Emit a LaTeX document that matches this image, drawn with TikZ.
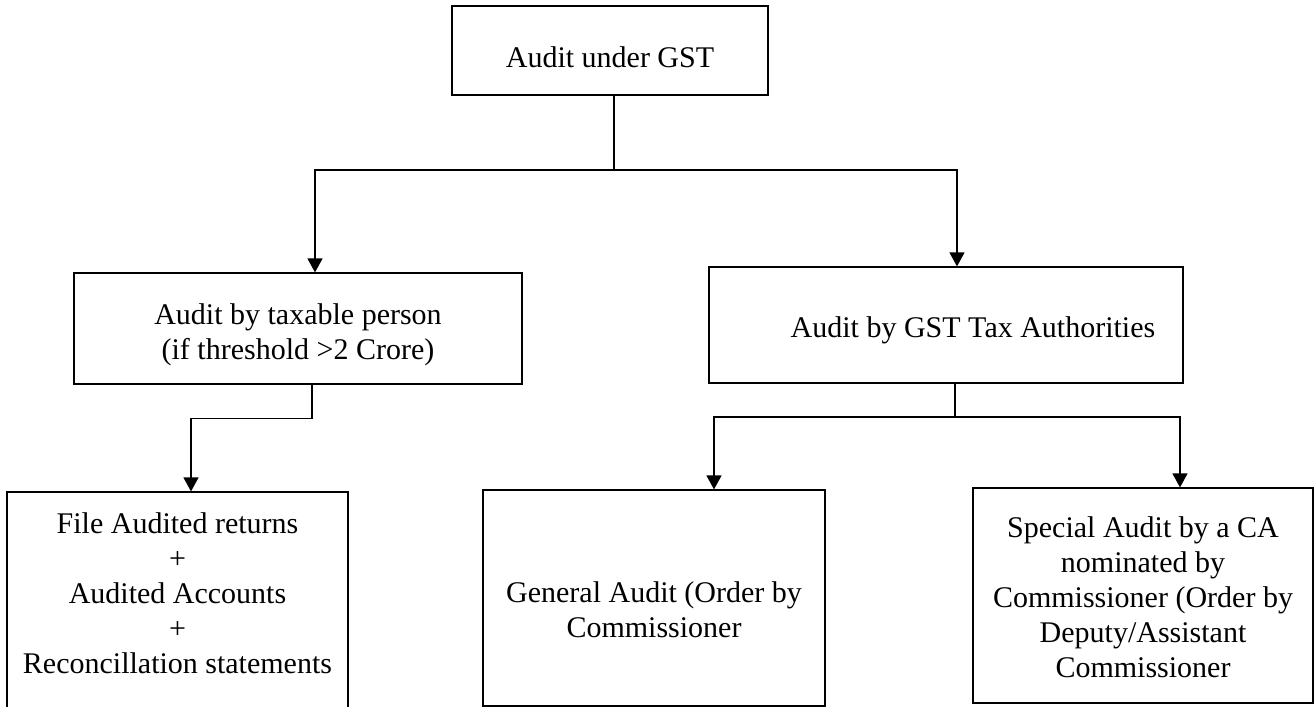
\documentclass[tikz,border=0pt]{standalone}
\usepackage{fontspec}
\setmainfont{Liberation Serif}
\usepackage{tikz}
\usetikzlibrary{arrows.meta}
\tikzstyle{BoxAudit}=[rectangle,draw=black,line width=1.2pt,inner sep=0pt,align=center,
font=\fontsize{30}{35}\selectfont]
\tikzstyle{EdgeAudit}=[black,line width=1.3pt]
\tikzstyle{ArrowAudit}=[EdgeAudit,-{Triangle[length=14pt,width=15pt]}]

\begin{document}
\begin{tikzpicture}[x=1pt,y=-1pt]
        \useasboundingbox(0,0)rectangle(1315,707);
        \clip(0,0)rectangle(1315,707);
        \node[BoxAudit,minimum width=316pt,minimum height=89pt,text height=33pt,text depth=0pt](gst)at(610,50.5){Audit under GST};
        \node[BoxAudit,minimum width=448pt,minimum height=111pt,text height=61pt,text depth=0pt](taxable)at(298,328.5){Audit by taxable person\\(if threshold >2 Crore)};
        \node[BoxAudit,minimum width=474pt,minimum height=116pt,text height=24pt,text depth=0pt](authority)at(946,325){\hspace*{54pt}Audit by GST Tax Authorities};
        \node[BoxAudit,minimum width=341pt,minimum height=230pt,text height=160pt,text depth=28pt](filed)at(177.5,607){File Audited returns\\+\\Audited Accounts\\+\\Reconcillation statements};
        \node[BoxAudit,minimum width=342pt,minimum height=216pt,text height=78pt,text depth=0pt](general)at(654,598){General Audit (Order by\\Commissioner};
        \node[BoxAudit,minimum width=340pt,minimum height=215pt,text height=163pt,text depth=0pt](special)at(1143,595.5){Special Audit by a CA\\nominated by\\Commissioner (Order by\\Deputy/Assistant\\Commissioner};
        \coordinate(bar)at(614,170);
        \coordinate(fork)at(955,417);
        \draw[EdgeAudit]([xshift=4pt]gst.south)--(bar);
        \draw[ArrowAudit](bar)-|([xshift=17pt]taxable.north);
        \draw[ArrowAudit](bar)-|([xshift=11pt]authority.north);
        \draw[ArrowAudit]([xshift=14pt]taxable.south)--++(0,34)-|([xshift=13.5pt]filed.north);
        \draw[EdgeAudit]([xshift=9pt]authority.south)--(fork);
        \draw[ArrowAudit](fork)-|([xshift=60pt]general.north);
        \draw[ArrowAudit](fork)-|([xshift=37pt]special.north);
    \end{tikzpicture}
\end{document}
